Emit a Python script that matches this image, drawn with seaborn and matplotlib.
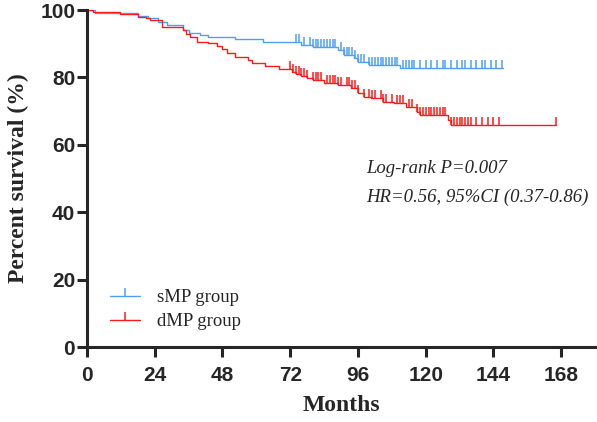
import numpy as np
import seaborn as sns
import matplotlib.pyplot as plt
from matplotlib.lines import Line2D

# Kaplan-Meier steps (months, percent survival)
smp_times = [0, 3, 18, 21.7, 25, 28.5, 34, 36, 40, 43, 52.6, 62.5, 75.7, 80, 89, 91,
             94.6, 96, 100, 111, 147.5]
smp_surv = [100, 99.2, 98.2, 97.5, 96.5, 95.5, 94.2, 93.2, 92.5, 92, 91.3, 90.6, 89.6,
            89.1, 88.1, 86.6, 85.7, 84.7, 83.7, 82.7, 82.7]
smp_censor = [74, 75, 77, 79, 80, 81, 82, 83, 84, 85, 86, 87, 88, 90, 91, 92, 93, 94, 95,
              96, 97, 98, 100, 101, 102, 103, 104, 105, 106, 107, 108, 109, 110, 112, 113,
              114, 115, 116, 118, 120, 122, 124, 126, 127, 129, 131, 133, 134, 136, 138,
              140, 141, 143, 145, 147]

dmp_times = [0, 2, 11.7, 18, 21, 22.4, 26.6, 34, 35, 36.6, 39, 43, 46, 48, 49.7, 52.6,
             57, 58.6, 63, 68, 72.5, 74, 76, 78, 80, 84, 89, 93.5, 96, 98, 100.5, 105,
             108.7, 113, 117, 118, 128, 129, 166]
dmp_surv = [100, 99.3, 98.7, 98, 97.5, 97, 95.1, 94.1, 93, 92, 90.6, 90.1, 89.3, 88.3,
            87.3, 86.1, 85.2, 84.2, 83.4, 82.4, 81.7, 81, 80.3, 79.8, 79.2, 78.2, 77.7,
            76.8, 75.5, 74.3, 73.8, 72.8, 72.3, 71.3, 69.8, 68.8, 67.4, 65.9, 65.9]
dmp_censor = [72, 73, 74, 75, 76, 77, 78, 80, 81, 82, 83, 85, 86, 87, 88, 89, 90, 92, 93,
              94, 95, 96, 98, 100, 101, 102, 104, 105, 106, 108, 110, 111, 112, 114, 115,
              117, 118, 119, 120, 121, 122, 123, 124, 125, 126, 127, 129, 130, 131, 132,
              133, 134, 135, 136, 138, 140, 142, 144, 146, 166]

x_ticks = [0, 24, 48, 72, 96, 120, 144, 168]
y_ticks = [0, 20, 40, 60, 80, 100]

blue = '#4f9ff5'
red = '#ff1a1a'

sns.set_style('ticks')
plt.rcParams['font.family'] = ['Liberation Sans', 'DejaVu Sans']

fig = plt.figure(figsize=(5.97, 4.22), dpi=100)
ax = fig.add_axes([0.1457, 0.1777, 0.851, 0.7986])


def censor_y(times, surv, cens):
    idx = np.searchsorted(times, cens, side='right') - 1
    return np.asarray(surv)[idx]


for times, surv, cens, col in [(smp_times, smp_surv, smp_censor, blue),
                               (dmp_times, dmp_surv, dmp_censor, red)]:
    sns.lineplot(x=times, y=surv, drawstyle='steps-post', color=col, linewidth=1.0,
                 ax=ax, estimator=None, sort=False)
    ax.plot(cens, censor_y(times, surv, cens), linestyle='none', marker=2,
            markersize=6, markeredgewidth=1.1, color=col)

ax.set_xlim(0, 180)
ax.set_ylim(0, 100)
ax.set_xticks(x_ticks)
ax.set_yticks(y_ticks)
for lab in ax.get_xticklabels() + ax.get_yticklabels():
    lab.set_fontweight('bold')
    lab.set_fontsize(15)
ax.tick_params(axis='x', width=2.2, length=7, pad=7)
ax.tick_params(axis='y', width=2.2, length=7, pad=1.5)
for side in ['left', 'bottom']:
    ax.spines[side].set_linewidth(2.2)
sns.despine(ax=ax)
ax.spines['left'].set_bounds(0, 100)

ax.set_xlabel('Months', family='Liberation Serif', fontweight='bold', fontsize=17,
              labelpad=7)
ax.set_ylabel('Percent survival (%)', family='Liberation Serif', fontweight='bold',
              fontsize=17, labelpad=8)

ax.text(98.8, 53.1, 'Log-rank P=0.007', family='Liberation Serif', style='italic',
        fontsize=13.5, va='center')
ax.text(98.8, 44.5, 'HR=0.56, 95%CI (0.37-0.86)', family='Liberation Serif',
        style='italic', fontsize=13.5, va='center')

handles = [Line2D([], [], color=blue, linewidth=1.0, marker=2, markersize=6,
                  markeredgewidth=1.1),
           Line2D([], [], color=red, linewidth=1.0, marker=2, markersize=6,
                  markeredgewidth=1.1)]
ax.legend(handles, ['sMP group', 'dMP group'], loc='lower left',
          bbox_to_anchor=(0.012, 0.0), frameon=False, handlelength=1.6,
          prop={'family': 'Liberation Serif', 'size': 13.5}, labelspacing=0.35,
          handletextpad=0.9)

fig.savefig('out.png', dpi=100)
